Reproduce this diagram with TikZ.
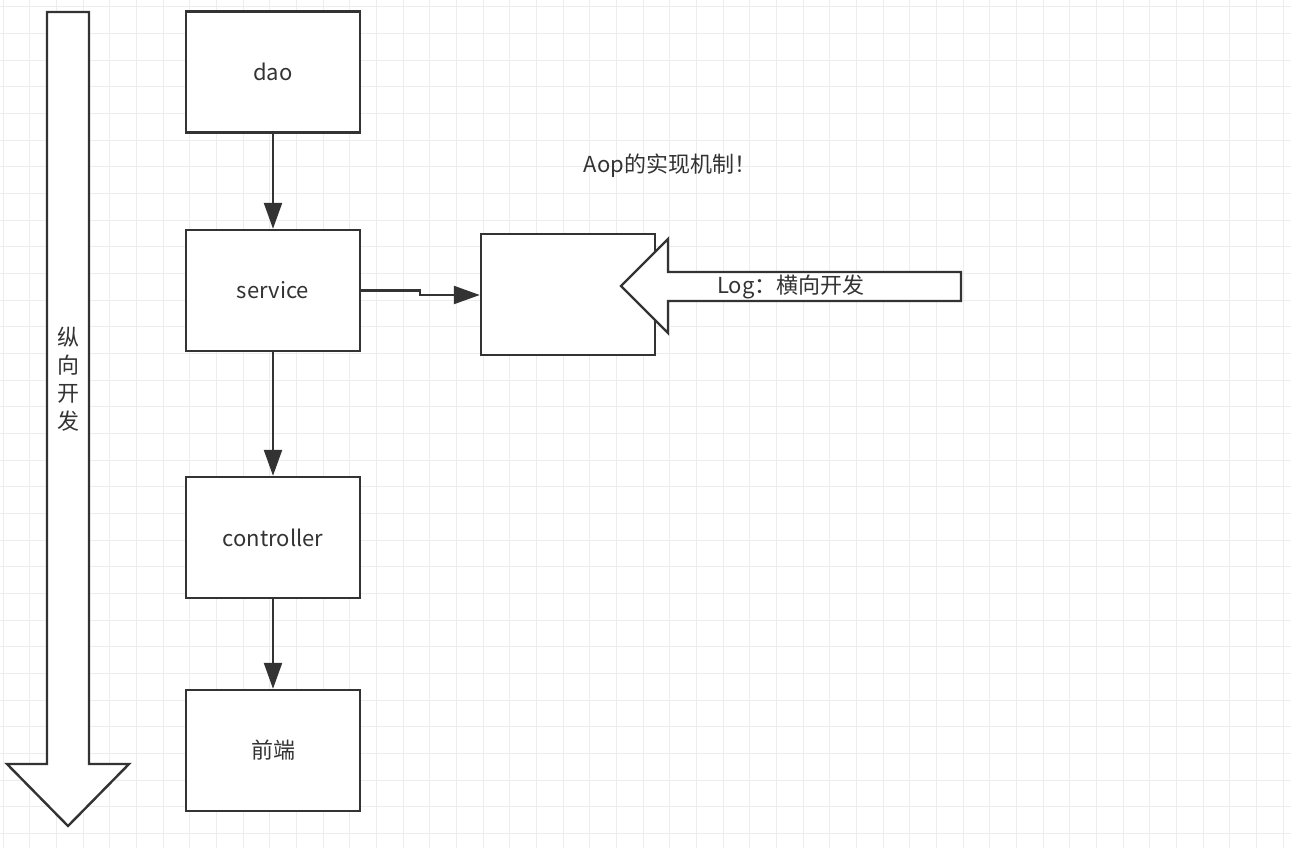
\documentclass[tikz,border=0pt]{standalone}
\usepackage{fontspec}
\setmainfont{Noto Sans CJK SC}
\usepackage{xcolor}
\usetikzlibrary{arrows.meta}
\definecolor{inkgray}{HTML}{333333}
\definecolor{gridgray}{HTML}{EDEDED}

\tikzset{
  layerbox/.style={draw=inkgray,line width=2.4pt,fill=white,
    minimum width=174pt,minimum height=121pt,inner sep=0pt,
    text=inkgray,font=\fontsize{22}{26}\selectfont},
  flowarrow/.style={draw=inkgray,line width=2.4pt,
    -{Triangle[length=26pt,width=18pt]}},
  bigarrow/.style={draw=inkgray,line width=2.4pt,fill=white,line join=miter},
  gridline/.style={gridgray,line width=1pt},
  plaintext/.style={text=inkgray,font=\fontsize{22}{26}\selectfont,inner sep=0pt}
}

\begin{document}
\begin{tikzpicture}[x=1pt,y=-1pt]
  \useasboundingbox[fill=white] (0,0) rectangle (1291,848);

  % background grid
  \foreach \i in {0,...,48}
    \draw[gridline] (3+26.67*\i,0) -- (3+26.67*\i,848);
  \foreach \j in {0,...,31}
    \draw[gridline] (0,6.7+26.67*\j) -- (1291,6.7+26.67*\j);

  % vertical development arrow
  \draw[bigarrow] (47,12) -- (89,12) -- (89,764) -- (129,764) -- (68,826)
    -- (7,764) -- (47,764) -- cycle;
  \node[plaintext,align=center,font=\fontsize{22}{28}\selectfont]
    (vlabel) at (68,379) {纵\\向\\开\\发};

  % layers
  \node[layerbox] (dao) at (273,72) {dao};
  \node[layerbox] (service) at (273,290.5) {service};
  \node[layerbox] (controller) at (273,537.5) {controller};
  \node[layerbox] (front) at (273,750.5) {前端};

  \draw[flowarrow] (dao) -- (service);
  \draw[flowarrow] (service) -- (controller);
  \draw[flowarrow] (controller) -- (front);

  % aspect box
  \node[layerbox] (aop) at (568,294.5) {};
  \coordinate (jog) at (420,295);
  \draw[flowarrow] (service.east) -- (jog |- service.east) -- (jog)
    -- (jog -| aop.west);

  \node[plaintext] (title) at (670,166) {Aop的实现机制！};

  % horizontal log arrow
  \draw[bigarrow] (961,272) -- (668,272) -- (668,239) -- (621,286)
    -- (668,333) -- (668,301) -- (961,301) -- cycle;
  \node[plaintext] (loglabel) at (791,287) {Log：横向开发};
\end{tikzpicture}
\end{document}
